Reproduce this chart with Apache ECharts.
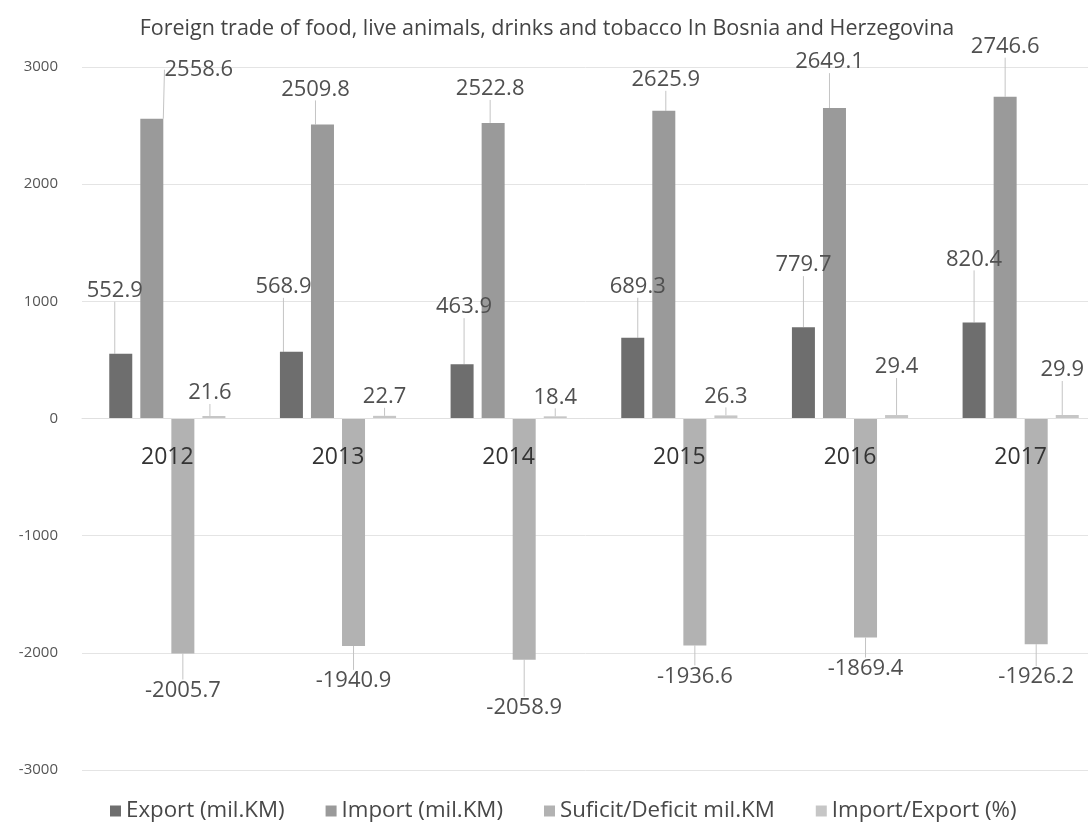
<!DOCTYPE html>
<html>
<head>
<meta charset="utf-8">
<script src="https://cdn.jsdelivr.net/npm/echarts@6/dist/echarts.min.js"></script>
<style>
  html, body { margin: 0; padding: 0; background: #fff; }
  #chart { width: 1088px; height: 823px; }
</style>
</head>
<body>
<div id="chart"></div>
<script>
const years = ['2012', '2013', '2014', '2015', '2016', '2017'];
const exportVals = [552.9, 568.9, 463.9, 689.3, 779.7, 820.4];
const importVals = [2558.6, 2509.8, 2522.8, 2625.9, 2649.1, 2746.6];
const balanceVals = [-2005.7, -1940.9, -2058.9, -1936.6, -1869.4, -1926.2];
const ratioVals = [21.6, 22.7, 18.4, 26.3, 29.4, 29.9];
const yTicks = [-3000, -2000, -1000, 0, 1000, 2000, 3000];

// 标签相对柱端的偏移（原图标签是手动摆放的）
const labelDy = [
    [-52, -54, -46, -40, -51, -52],
    [-38, -24, -23, -20, -35, -39],
    [26, 24, 37, 20, 20, 22],
    [-12, -8, -8, -8, -37, -34]
];
const labelDx = [
    [-6, -8, 2, 5, 0, 0],
    [47, -7, -3, 2, -5, 0],
    [0, 0, 0, 0, 0, 0],
    [-4, 0, 0, 0, 0, -5]
];

const FONT = '"Open Sans", "Noto Sans", sans-serif';
const TEXT = '#505050';

function barSeries(name, data, color, below) {
    return {
        name: name,
        type: 'bar',
        data: data,
        barWidth: 23,
        barGap: '35%',
        itemStyle: { color: color },
        label: {
            show: true,
            position: below ? 'bottom' : 'top',
            distance: 0,
            color: TEXT,
            fontFamily: FONT,
            fontSize: 22,
            formatter: p => p.value.toFixed(1)
        },
        labelLayout: p => ({
            dx: labelDx[p.seriesIndex][p.dataIndex],
            dy: labelDy[p.seriesIndex][p.dataIndex]
        }),
        labelLine: { show: true, lineStyle: { color: '#c4c4c4', width: 1 } }
    };
}

const chart = echarts.init(document.getElementById('chart'));
chart.setOption({
    backgroundColor: '#fff',
    animation: false,
    title: {
        text: 'Foreign trade of food, live animals, drinks and tobacco In Bosnia and Herzegovina',
        left: 542,
        textAlign: 'center',
        top: 13,
        textStyle: { color: '#444', fontFamily: FONT, fontSize: 21.5, fontWeight: 'normal' }
    },
    legend: {
        top: 795,
        left: 105,
        itemWidth: 11,
        itemHeight: 11,
        itemGap: 41,
        icon: 'rect',
        textStyle: { color: '#484848', fontFamily: FONT, fontSize: 22.3 },
        data: ['Export (mil.KM)', 'Import (mil.KM)', 'Suficit/Deficit mil.KM', 'Import/Export (%)']
    },
    grid: { left: 82, width: 1024, top: 67, height: 703, outerBoundsMode: 'none' },
    xAxis: {
        type: 'category',
        data: years,
        offset: -351.5,
        z: 5,
        axisLine: { onZero: false, lineStyle: { color: '#e0e0e0' } },
        axisTick: { show: false },
        axisLabel: { color: '#333', fontFamily: FONT, fontSize: 23, margin: 27 }
    },
    yAxis: {
        type: 'value',
        min: yTicks[0],
        max: yTicks[yTicks.length - 1],
        interval: 1000,
        axisLine: { show: false },
        axisTick: { show: false },
        axisLabel: { color: '#555', fontFamily: FONT, fontSize: 15, margin: 24, formatter: v => String(v) },
        splitLine: { lineStyle: { color: '#e4e4e4' } }
    },
    series: [
        barSeries('Export (mil.KM)', exportVals, '#6e6e6e', false),
        barSeries('Import (mil.KM)', importVals, '#9a9a9a', false),
        barSeries('Suficit/Deficit mil.KM', balanceVals, '#b2b2b2', true),
        barSeries('Import/Export (%)', ratioVals, '#c6c6c6', false)
    ]
});
</script>
</body>
</html>
